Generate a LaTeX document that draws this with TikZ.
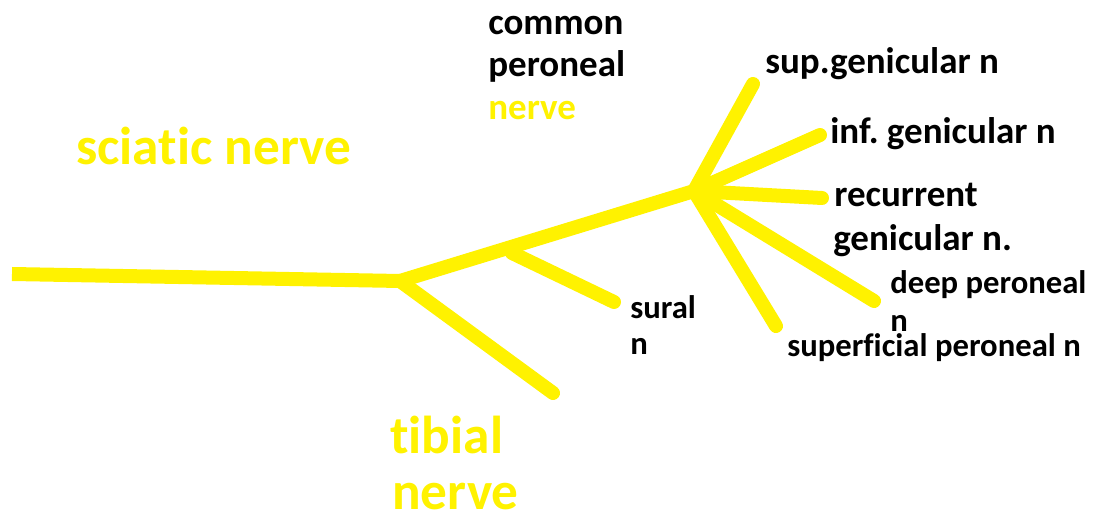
\documentclass[tikz,border=0pt]{standalone}
\usepackage{fontspec}
\setmainfont{Carlito}[Ligatures=NoCommon]
\definecolor{nerveyellow}{RGB}{255,242,0}
\frenchspacing
\tikzset{
  nerve/.style={draw=nerveyellow, line width=10.5pt, line cap=round, line join=round},
  bigtxt/.style={anchor=base west, inner sep=0pt, font=\bfseries\fontsize{27.75}{33}\selectfont, text=black},
  smalltxt/.style={anchor=base west, inner sep=0pt, font=\bfseries\fontsize{24.5}{29}\selectfont, text=black},
  hugetxt/.style={anchor=base west, inner sep=0pt, font=\bfseries\fontsize{40}{48}\selectfont, text=nerveyellow},
}
\begin{document}
\begin{tikzpicture}[x=0.75pt, y=-0.75pt]
\useasboundingbox (0,0) rectangle (1096,523);
% coordinates
\coordinate (start) at (12,274);
\coordinate (ja) at (400,281);
\coordinate (tib) at (553,393);
\coordinate (jb) at (694,191);
\coordinate (js) at (512,253);
\coordinate (sur) at (614,302);
\coordinate (sup) at (753,84);
\coordinate (inf) at (820,135);
\coordinate (rec) at (822,198);
\coordinate (deep) at (874,301);
\coordinate (supf) at (776,326);
% nerves
\draw[nerve, line cap=butt] (start) -- (ja);
\draw[nerve] (ja) -- (tib);
\draw[nerve] (ja) -- (jb);
\draw[nerve] (js) -- (sur);
\draw[nerve] (jb) -- (sup);
\draw[nerve] (jb) -- (inf);
\draw[nerve] (jb) -- (rec);
\draw[nerve] (jb) -- (deep);
\draw[nerve] (jb) -- (supf);
% labels
\node[hugetxt] (sciatic) at (76,165) {sciatic nerve};
\node[hugetxt] (tibial) at (390,454) {tibial};
\node[hugetxt] (tibial2) at (392,510) {nerve};
\node[bigtxt] (cp1) at (488,35) {common};
\node[bigtxt] (cp2) at (488,77) {peroneal};
\node[bigtxt, text=nerveyellow] (cp3) at (488,120) {nerve};
\node[bigtxt] (supl) at (765,74) {sup.genicular n};
\node[bigtxt] (infl) at (830,144) {inf. genicular n};
\node[bigtxt] (recl) at (834,207) {recurrent};
\node[bigtxt] (recl2) at (833,251) {genicular n.};
\node[smalltxt] (deepl) at (890,294) {deep peroneal};
\node[smalltxt] (deepl2) at (890,332) {n};
\node[smalltxt] (supfl) at (787,357) {superficial peroneal n};
\node[smalltxt] (surl) at (630,319) {sural};
\node[smalltxt] (surl2) at (630,355) {n};
\end{tikzpicture}
\end{document}
